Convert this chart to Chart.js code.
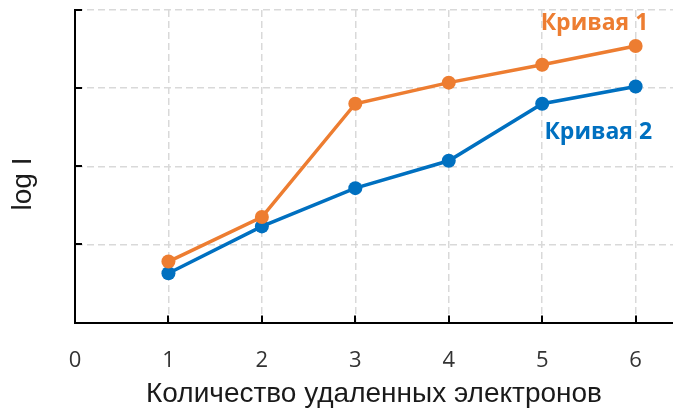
<!DOCTYPE html>
<html>
<head>
<meta charset="utf-8">
<script src="https://cdn.jsdelivr.net/npm/chart.js@4/dist/chart.umd.min.js"></script>
<style>
  html, body { margin: 0; padding: 0; background: #fff; }
  #wrap { width: 673px; height: 410px; position: relative; }
</style>
</head>
<body>
<div id="wrap"><canvas id="chart"></canvas></div>
<script>
const xValues = [1, 2, 3, 4, 5, 6];
const curve1 = [0.78, 1.35, 2.80, 3.07, 3.30, 3.54];
const curve2 = [0.63, 1.23, 1.72, 2.07, 2.80, 3.02];
const xTicks = [0, 1, 2, 3, 4, 5, 6];
const yTicks = [0, 1, 2, 3, 4];
const seriesNames = ["Кривая 1", "Кривая 2"];
// where the series names sit, in data units
const nameAnchors = [
    { x: 5.56, y: 3.83 },
    { x: 5.60, y: 2.43 },
];

const ORANGE = "#ED7D31";
const BLUE = "#0070C0";

// small inward tick marks, series names and the rotated y title
const extrasPlugin = {
    id: "extras",
    afterDraw(chart) {
        const { ctx, scales: { x, y }, chartArea } = chart;
        ctx.save();
        ctx.strokeStyle = "#000";
        ctx.lineWidth = 2;
        ctx.beginPath();
        xTicks.slice(1).forEach((v) => {
            const px = Math.round(x.getPixelForValue(v));
            ctx.moveTo(px, chartArea.bottom);
            ctx.lineTo(px, chartArea.bottom - 7);
        });
        yTicks.slice(1).forEach((v) => {
            const py = Math.round(y.getPixelForValue(v));
            ctx.moveTo(chartArea.left, py);
            ctx.lineTo(chartArea.left + 7, py);
        });
        ctx.stroke();

        ctx.font = "bold 23px 'Open Sans', sans-serif";
        ctx.textAlign = "center";
        ctx.textBaseline = "middle";
        nameAnchors.forEach((a, i) => {
            ctx.fillStyle = i === 0 ? ORANGE : BLUE;
            ctx.fillText(seriesNames[i], x.getPixelForValue(a.x), y.getPixelForValue(a.y));
        });

        ctx.translate(23, 184);
        ctx.rotate(-Math.PI / 2);
        ctx.fillStyle = "#1a1a1a";
        ctx.font = "28px 'Liberation Sans', Arial, sans-serif";
        ctx.fillText("log I", 0, 0);
        ctx.restore();
    },
};

const toPoints = (ys) => xValues.map((v, i) => ({ x: v, y: ys[i] }));

new Chart(document.getElementById("chart"), {
    type: "line",
    data: {
        datasets: [
            {
                label: seriesNames[0],
                data: toPoints(curve1),
                borderColor: ORANGE,
                backgroundColor: ORANGE,
                borderWidth: 3.5,
                pointRadius: 7,
                pointBorderWidth: 0,
            },
            {
                label: seriesNames[1],
                data: toPoints(curve2),
                borderColor: BLUE,
                backgroundColor: BLUE,
                borderWidth: 3.5,
                pointRadius: 7,
                pointBorderWidth: 0,
            },
        ],
    },
    options: {
        responsive: true,
        maintainAspectRatio: false,
        animation: false,
        layout: { autoPadding: false, padding: { top: 10, right: 0, left: 0, bottom: 0 } },
        plugins: {
            legend: { display: false },
            tooltip: { enabled: false },
        },
        scales: {
            x: {
                type: "linear",
                min: 0,
                max: 6.4,
                afterBuildTicks: (scale) => {
                    scale.ticks = xTicks.map((v) => ({ value: v }));
                },
                afterFit: (scale) => { scale.height = 87.5; },
                border: { color: "#000", width: 2, dash: [7, 4] },
                grid: {
                    color: "#d9d9d9",
                    lineWidth: 1.5,
                    drawTicks: false,
                },
                ticks: {
                    color: "#333",
                    padding: 25,
                    maxRotation: 0,
                    font: { family: "'Open Sans', sans-serif", size: 22 },
                },
                title: {
                    display: true,
                    text: "Количество удаленных электронов",
                    color: "#1a1a1a",
                    padding: { top: 0, bottom: 0 },
                    font: { family: "'Liberation Sans', Arial, sans-serif", size: 28, lineHeight: 1.14 },
                },
            },
            y: {
                type: "linear",
                min: 0,
                max: 4,
                afterBuildTicks: (scale) => {
                    scale.ticks = yTicks.map((v) => ({ value: v }));
                },
                afterFit: (scale) => { scale.width = 75; },
                border: { color: "#000", width: 2, dash: [7, 4] },
                grid: {
                    color: "#d9d9d9",
                    lineWidth: 1.5,
                    drawTicks: false,
                },
                ticks: { display: false },
            },
        },
    },
    plugins: [extrasPlugin],
});
</script>
</body>
</html>
